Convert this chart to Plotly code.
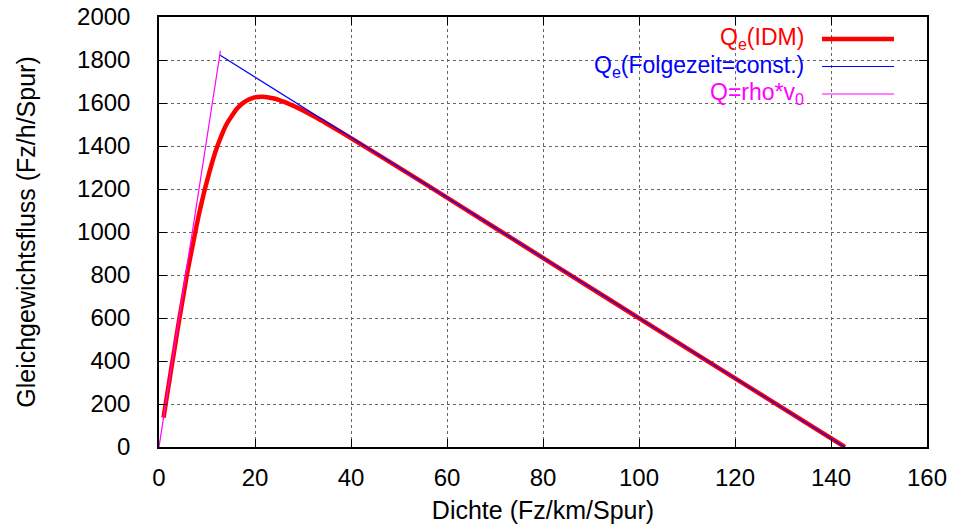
import plotly.graph_objects as go

# IDM equilibrium flow-density curve
rho_idm = [0.95, 1.34, 1.9, 2.32, 2.67, 3.0, 3.65, 4.2, 5.15, 5.9, 6.64, 7.3, 7.86, 8.4,
           9.43, 10.4, 11.26, 12.1, 12.94, 13.7, 14.55, 15.4, 16.17, 17.0, 17.84, 18.7,
           19.61, 20.6, 21.55, 22.6, 23.72, 24.9, 26.22, 27.6, 29.16, 30.9, 32.74, 34.9,
           39.9, 46.7, 56.2, 70.4, 94.3, 113.6, 142.9]
q_idm = [137, 193, 272, 331, 381, 424, 516, 591, 713, 812, 896, 969, 1033, 1090,
         1188, 1270, 1338, 1395, 1444, 1485, 1519, 1548, 1572, 1591, 1605, 1616,
         1624, 1628, 1629, 1627, 1622, 1615, 1604, 1591, 1575, 1555, 1532, 1505,
         1438, 1345, 1213, 1014, 679, 409, 0]

# constant time headway
rho_const = [12.66, 142.86]
q_const = [1823, 0]

# free flow Q = rho * v0
rho_free = [0.0, 12.8]
q_free = [0, 1843]

x_ticks = [0, 20, 40, 60, 80, 100, 120, 140, 160]
y_ticks = [0, 200, 400, 600, 800, 1000, 1200, 1400, 1600, 1800, 2000]

FONT = "Liberation Sans, Arial, Helvetica, sans-serif"

fig = go.Figure()
fig.add_trace(go.Scatter(x=rho_idm, y=q_idm, mode="lines", name="Q<sub>e</sub>(IDM)",
                         line=dict(color="#ff0000", width=4.5, shape="spline", smoothing=0.6),
                         showlegend=False))
fig.add_trace(go.Scatter(x=rho_const, y=q_const, mode="lines", name="Q<sub>e</sub>(Folgezeit=const.)",
                         line=dict(color="#0000ff", width=1.2), showlegend=False))
fig.add_trace(go.Scatter(x=rho_free, y=q_free, mode="lines", name="Q=rho*v<sub>0</sub>",
                         line=dict(color="#ff00ff", width=1.2), showlegend=False))

# gnuplot-style legend: right-aligned text with sample line to the right
legend_items = [("Q<sub>e</sub>(IDM)", "#ff0000", 4.5),
                ("Q<sub>e</sub>(Folgezeit=const.)", "#0000ff", 1.2),
                ("Q=rho*v<sub>0</sub>", "#ff00ff", 1.2)]
ytop = 1 - (39 - 17) / 430
step = 27.5 / 430
for i, (txt, col, w) in enumerate(legend_items):
    yy = ytop - i * step
    fig.add_annotation(xref="paper", yref="paper", x=(806 - 159) / 768, y=yy,
                       text=txt, showarrow=False, xanchor="right", yanchor="middle",
                       font=dict(family=FONT, size=23, color=col))
    fig.add_shape(type="line", xref="paper", yref="paper",
                  x0=(822 - 159) / 768, x1=(894 - 159) / 768, y0=yy, y1=yy,
                  line=dict(color=col, width=w))

axis_common = dict(showline=True, linecolor="black", linewidth=1.5, mirror="ticks",
                   ticks="inside", ticklen=8, tickcolor="black", tickwidth=1,
                   showgrid=True, gridcolor="#666666", griddash="dot", gridwidth=1,
                   zeroline=False, automargin=False,
                   tickfont=dict(family=FONT, size=24, color="black"))

fig.update_xaxes(range=[0, 160], tickvals=x_ticks, ticktext=[str(v) for v in x_ticks],
                 ticklabelstandoff=8,
                 title=dict(text="Dichte (Fz/km/Spur)", font=dict(family=FONT, size=25, color="black"), standoff=12),
                 **axis_common)
fig.update_yaxes(range=[0, 2000], tickvals=y_ticks, ticktext=[str(v) for v in y_ticks],
                 ticklabelstandoff=22,
                 title=dict(text="Gleichgewichtsfluss (Fz/h/Spur)", font=dict(family=FONT, size=25, color="black"), standoff=34),
                 **axis_common)

fig.update_layout(width=975, height=531, margin=dict(l=159, r=48, t=17, b=84),
                  plot_bgcolor="white", paper_bgcolor="white", showlegend=False)

fig.write_html("out.html")
